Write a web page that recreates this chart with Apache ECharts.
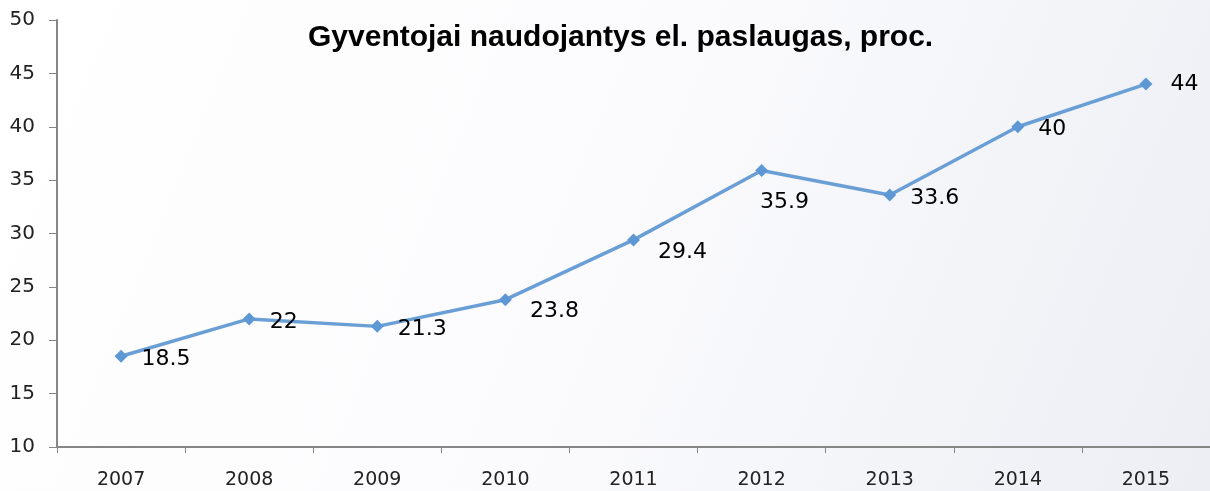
<!DOCTYPE html>
<html>
<head>
<meta charset="utf-8">
<script src="https://cdn.jsdelivr.net/npm/echarts@6/dist/echarts.min.js"></script>
<style>
html,body{margin:0;padding:0;}
#main{width:1210px;height:491px;}
</style>
</head>
<body>
<div id="main"></div>
<script>
var years=['2007','2008','2009','2010','2011','2012','2013','2014','2015'];
var values=[18.5,22,21.3,23.8,29.4,35.9,33.6,40,44];
var chartTitle='Gyventojai naudojantys el. paslaugas, proc.';

// label placement tweaks (index -> offset)
var labelOffsets={3:[4,12],4:[4,12],5:[-22,32],8:[4,0]};

var myChart=echarts.init(document.getElementById('main'));
var seriesData=[];
for(var i=0;i<values.length;i++){
	var item={value:values[i]};
	if(labelOffsets[i]){
		item.label={offset:labelOffsets[i]};
	}
	seriesData.push(item);
}
var option={
	backgroundColor:{
		type:'linear',x:0,y:0,x2:1,y2:1,
		colorStops:[{offset:0,color:'#ffffff'},{offset:0.5,color:'#fbfbfd'},{offset:1,color:'#eceef4'}]
	},
	title:{
		text:chartTitle,
		left:303,
		top:18,
		textStyle:{fontFamily:'Liberation Sans',fontWeight:'bold',fontSize:30,color:'#000'}
	},
	grid:{left:57,right:0,top:20,bottom:44,containLabel:false},
	xAxis:{
		type:'category',
		data:years,
		boundaryGap:true,
		axisLine:{lineStyle:{color:'#868686',width:2}},
		axisTick:{show:true,length:6,lineStyle:{color:'#868686'}},
		axisLabel:{fontFamily:'DejaVu Sans',fontSize:19,color:'#222',margin:24}
	},
	yAxis:{
		type:'value',
		min:10,max:50,interval:5,
		splitLine:{show:false},
		axisLine:{show:true,lineStyle:{color:'#868686',width:2}},
		axisTick:{show:true,length:8,lineStyle:{color:'#868686'}},
		axisLabel:{fontFamily:'DejaVu Sans',fontSize:20,color:'#222',margin:22}
	},
	series:[{
		type:'line',
		data:seriesData,
		symbol:'diamond',
		symbolSize:13,
		lineStyle:{color:'#6a9fd6',width:3.5},
		itemStyle:{color:'#5e98d4'},
		label:{
			show:true,
			position:'right',
			distance:14,
			offset:[0,3],
			fontFamily:'DejaVu Sans',
			fontSize:22,
			color:'#000'
		}
	}]
};
myChart.setOption(option);
</script>
</body>
</html>
